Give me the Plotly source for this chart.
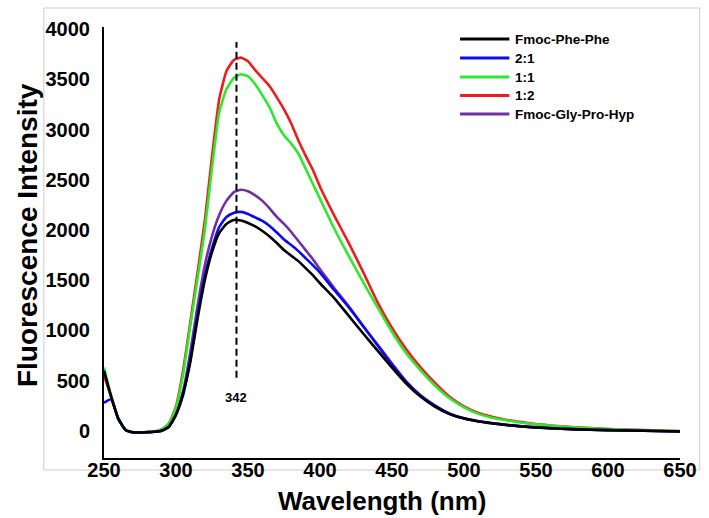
import plotly.graph_objects as go

wavelength = [250, 255, 260, 265, 270, 275, 280, 285, 290, 295, 300, 305, 310, 315, 320, 325,
              330, 335, 340, 345, 350, 355, 360, 365, 370, 375, 380, 385, 390, 395, 400, 410,
              420, 430, 440, 450, 460, 470, 480, 490, 500, 510, 520, 530, 540, 550, 560, 575,
              600, 625, 650]

fmoc_phe_phe = [600, 340, 120, 10, -12, -15, -12, -8, 2, 40, 160, 380, 690, 1120, 1500, 1780,
                1970, 2060, 2100, 2095, 2070, 2035, 1990, 1935, 1870, 1800, 1745, 1690, 1620, 1550, 1470, 1320,
                1145, 970, 800, 630, 470, 340, 240, 168, 123, 95, 75, 58, 45, 35, 27, 18,
                8, 2, -5]

ratio_2_1 = [280, 315, 120, 10, -12, -15, -12, -8, 2, 42, 165, 360, 720, 1160, 1540, 1820,
             2030, 2130, 2170, 2180, 2160, 2125, 2090, 2040, 1975, 1905, 1850, 1790, 1720, 1650, 1575, 1400,
             1230, 1045, 850, 660, 485, 350, 250, 172, 126, 97, 77, 60, 46, 36, 28, 18,
             8, 2, -5]

ratio_1_1 = [630, 345, 120, 10, -12, -15, -12, -5, 15, 70, 230, 570, 1050, 1520, 2000, 2620,
             3170, 3400, 3510, 3550, 3530, 3450, 3340, 3220, 3060, 2940, 2860, 2760, 2610, 2460, 2310, 2010,
             1740, 1480, 1230, 985, 770, 600, 450, 325, 235, 170, 130, 105, 82, 66, 52, 36,
             18, 7, -3]

ratio_1_2 = [550, 340, 120, 10, -12, -15, -12, -5, 15, 75, 245, 610, 1090, 1580, 2090, 2730,
             3300, 3580, 3690, 3715, 3680, 3590, 3510, 3430, 3320, 3200, 3060, 2890, 2740, 2600, 2430, 2140,
             1870, 1580, 1280, 1025, 810, 630, 475, 340, 245, 180, 140, 110, 88, 68, 55, 38,
             20, 8, 0]

fmoc_gly_pro_hyp = [590, 340, 120, 10, -15, -18, -14, -8, 2, 45, 175, 400, 790, 1250, 1650, 1940,
                    2150, 2290, 2375, 2400, 2385, 2345, 2290, 2215, 2130, 2060, 1980, 1890, 1800, 1710, 1610, 1420,
                    1240, 1040, 860, 670, 490, 352, 252, 173, 127, 97, 77, 60, 46, 36, 28, 18,
                    8, 2, -5]

series_names = ["Fmoc-Phe-Phe", "2:1", "1:1", "1:2", "Fmoc-Gly-Pro-Hyp"]
series_values = [fmoc_phe_phe, ratio_2_1, ratio_1_1, ratio_1_2, fmoc_gly_pro_hyp]
series_colors = ["#000000", "#0a0af0", "#2ee82e", "#ee1c1c", "#7030a0"]

x_ticks = [250, 300, 350, 400, 450, 500, 550, 600, 650]
y_ticks = [0, 500, 1000, 1500, 2000, 2500, 3000, 3500, 4000]
peak_wavelength = 342

FONT = "Liberation Sans, Arial, sans-serif"

W, H = 709, 518
L, R, T, B = 104, 688, 27, 458


def px_x(p):
    return (p - L) / (R - L)


def px_y(p):
    return (B - p) / (B - T)


fig = go.Figure()
# draw in reverse so black ends on top
for name, vals, color in reversed(list(zip(series_names, series_values, series_colors))):
    fig.add_trace(go.Scatter(
        x=wavelength, y=vals, mode="lines", name=name, showlegend=False,
        line=dict(color=color, width=2.6, shape="spline", smoothing=0.45),
    ))

# legend (drawn as key lines + labels)
legend_rows = [39, 58, 77, 95.5, 114]
for (name, color), row in zip(zip(series_names, series_colors), legend_rows):
    fig.add_shape(type="line", xref="paper", yref="paper",
                  x0=px_x(465), x1=px_x(515), y0=px_y(row), y1=px_y(row),
                  line=dict(color=color, width=3))
    fig.add_annotation(x=px_x(519), y=px_y(row), xref="paper", yref="paper",
                       text=name, showarrow=False, xanchor="left", yanchor="middle",
                       font=dict(family=FONT, size=13.5, color="black", weight="bold"))

fig.add_shape(type="line", xref="x", yref="y", x0=peak_wavelength, x1=peak_wavelength,
              y0=530, y1=3870, line=dict(color="black", width=2, dash="7px,4px"))
fig.add_annotation(x=peak_wavelength, y=330, xref="x", yref="y", text=str(peak_wavelength),
                   showarrow=False, font=dict(family=FONT, size=13, color="black", weight="bold"))

# light gray frame of the original picture
fig.add_shape(type="rect", xref="paper", yref="paper",
              x0=px_x(43), x1=px_x(708), y0=px_y(470), y1=px_y(8),
              line=dict(color="#cccccc", width=1), layer="below")

fig.add_annotation(x=px_x(386), y=px_y(501), xref="paper", yref="paper",
                   text="Wavelength (nm)", showarrow=False, xanchor="center", yanchor="middle",
                   font=dict(family=FONT, size=26, color="black", weight="bold"))
fig.add_annotation(x=px_x(26), y=px_y(235), xref="paper", yref="paper",
                   text="Fluorescence Intensity", showarrow=False, textangle=-90,
                   xanchor="center", yanchor="middle",
                   font=dict(family=FONT, size=28, color="black", weight="bold"))

fig.update_layout(
    width=W, height=H,
    margin=dict(l=L, r=W - R, t=T, b=H - B, pad=0),
    paper_bgcolor="white", plot_bgcolor="white",
    showlegend=False,
    xaxis=dict(range=[250, 650], tickvals=x_ticks, ticktext=[str(v) for v in x_ticks],
               showline=True, linecolor="black", linewidth=2, showgrid=False, zeroline=False,
               ticks="", ticklabelstandoff=-7,
               tickfont=dict(family=FONT, size=20, color="black", weight="bold")),
    yaxis=dict(range=[-269, 4020], tickvals=y_ticks, ticktext=[str(v) for v in y_ticks],
               showline=True, linecolor="black", linewidth=2, showgrid=False, zeroline=False,
               ticks="", ticklabelstandoff=8,
               tickfont=dict(family=FONT, size=20, color="black", weight="bold")),
)

fig.write_html("out.html")
